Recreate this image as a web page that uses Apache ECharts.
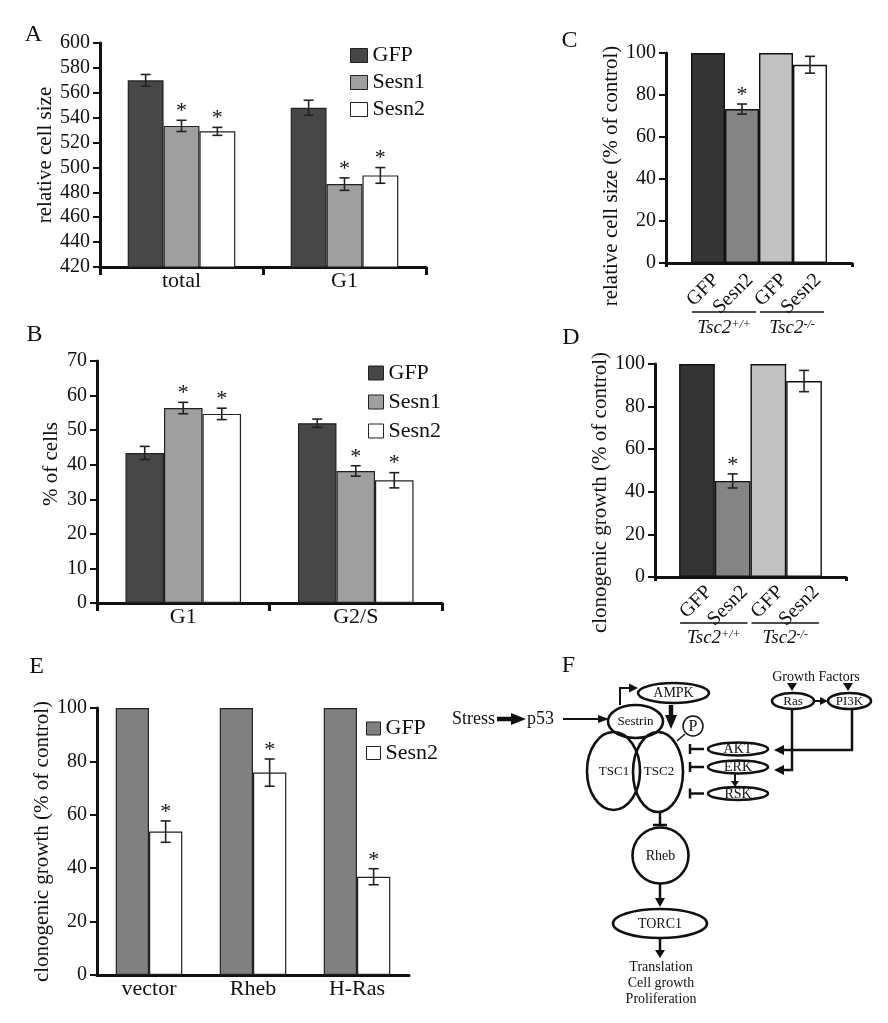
<!DOCTYPE html>
<html><head><meta charset="utf-8">
<script src="https://cdn.jsdelivr.net/npm/echarts@6/dist/echarts.min.js"></script>
<style>html,body{margin:0;padding:0;background:#fff}#c{width:888px;height:1023px}</style>
</head><body><div id="c"></div>
<script>
const FONT = '"Liberation Serif","Times New Roman",serif';

// ---------- Panel A : relative cell size ----------
const aCategories = ['total', 'G1'];
const aSeriesNames = ['GFP', 'Sesn1', 'Sesn2'];
const aGFP = [570, 548];
const aGFPErr = [4.7, 6];
const aSesn1 = [533.4, 486.6];
const aSesn1Err = [4.5, 5];
const aSesn2 = [529, 493.6];
const aSesn2Err = [3.2, 6.3];
const aStars = [[0, 0], [1, 1], [1, 1]];
const aYTicks = [420, 600, 20];

// ---------- Panel B : % of cells ----------
const bCategories = ['G1', 'G2/S'];
const bGFP = [43.4, 52.0];
const bGFPErr = [1.9, 1.2];
const bSesn1 = [56.4, 38.2];
const bSesn1Err = [1.65, 1.5];
const bSesn2 = [54.7, 35.5];
const bSesn2Err = [1.65, 2.2];
const bStars = [[0, 0], [1, 1], [1, 1]];
const bYTicks = [0, 70, 10];

// ---------- Panel C / D : Tsc2 cells ----------
const cdLabels = ['GFP', 'Sesn2', 'GFP', 'Sesn2'];
const cdGroups = ['{i|Tsc2}{s|+/+}', '{i|Tsc2}{s|-/-}'];
const cValues = [100, 73.3, 100, 94.4];
const cErr = [0, 2.4, 0, 4];
const cStars = [0, 1, 0, 0];
const dValues = [100, 45.1, 100, 92.0];
const dErr = [0, 3.3, 0, 5];
const dStars = [0, 1, 0, 0];
const cdYTicks = [0, 100, 20];

// ---------- Panel E : clonogenic growth ----------
const eCategories = ['vector', 'Rheb', 'H-Ras'];
const eSeriesNames = ['GFP', 'Sesn2'];
const eGFP = [100, 100, 100];
const eSesn2 = [53.7, 75.8, 36.8];
const eSesn2Err = [4, 5.1, 3];
const eStars = [1, 1, 1];
const eYTicks = [0, 100, 20];

const INK = '#111';
const colA = ['#474747', '#9f9f9f', '#ffffff'];
const colCD = ['#343434', '#848484', '#c2c2c2', '#ffffff'];
const colE = ['#808080', '#ffffff'];

function yAx(grid, t, name, nameGap, pad) {
  return {type: 'value', gridIndex: grid, min: t[0], max: t[1], interval: t[2],
    name: name, nameLocation: 'middle', nameGap: nameGap, nameRotate: 90,
    nameTextStyle: {fontFamily: FONT, fontSize: 21, color: INK, padding: pad},
    axisLine: {show: true, lineStyle: {color: INK, width: 3}},
    axisTick: {show: true, length: 7, lineStyle: {color: INK, width: 2}},
    axisLabel: {fontFamily: FONT, fontSize: 20, color: INK, margin: 10},
    splitLine: {show: false}};
}
function xAx(grid, data, ticks, showLabel) {
  return {type: 'category', gridIndex: grid, data: data,
    axisLine: {show: true, onZero: false, lineStyle: {color: INK, width: 3}},
    axisTick: {show: ticks > 0, length: ticks, lineStyle: {color: INK, width: 3}},
    axisLabel: {show: showLabel, fontFamily: FONT, fontSize: 22, color: INK, margin: 3}};
}
function bar(name, idx, data, color, gap, extra) {
  return Object.assign({type: 'bar', name: name, xAxisIndex: idx, yAxisIndex: idx, data: data,
    barGap: '0%', barCategoryGap: gap, silent: true, animation: false,
    itemStyle: {color: color, borderColor: '#222', borderWidth: 1.2}}, extra || {});
}
function errBar(ch, api, cat, x, v, e) {
  const s = {stroke: '#222', lineWidth: 1.6};
  const yT = api.coord([cat, v + e])[1], yB = api.coord([cat, v - e])[1];
  const cw = 5;
  ch.push({type: 'line', shape: {x1: x, y1: yT, x2: x, y2: yB}, style: s});
  ch.push({type: 'line', shape: {x1: x - cw, y1: yT, x2: x + cw, y2: yT}, style: s});
  ch.push({type: 'line', shape: {x1: x - cw, y1: yB, x2: x + cw, y2: yB}, style: s});
  return yT;
}
function starText(x, top) {
  return {type: 'text', x: x, y: top + 2, style: {text: '*', font: '22px ' + FONT, fill: INK, align: 'center', verticalAlign: 'bottom'}};
}
function groupedErr(idx, items, nSeries, gapFrac) {
  return {type: 'custom', xAxisIndex: idx, yAxisIndex: idx, data: items, encode: {x: 0, y: 2},
    silent: true, animation: false, z: 5,
    renderItem: function (params, api) {
      const cat = api.value(0), si = api.value(1), v = api.value(2), e = api.value(3), st = api.value(4);
      const c = api.coord([cat, v]);
      const bw = api.size([1, 0])[0] * (1 - gapFrac) / nSeries;
      const x = c[0] + (si - (nSeries - 1) / 2) * bw;
      const ch = [];
      let top = c[1];
      if (e > 0) top = errBar(ch, api, cat, x, v, e);
      if (st) ch.push(starText(x, top));
      return {type: 'group', children: ch};
    }};
}
function cdErr(idx, items, bw, lblDx, lblDy, lineDy, textDy) {
  return {type: 'custom', xAxisIndex: idx, yAxisIndex: idx, data: items, encode: {x: 0, y: 2},
    silent: true, animation: false, z: 5,
    renderItem: function (params, api) {
      const si = api.value(1), v = api.value(2), e = api.value(3), st = api.value(4);
      const c = api.coord([0, v]);
      const x = c[0] + (si - 1.5) * bw;
      const axisY = api.coord([0, 0])[1];
      const ch = [];
      let top = c[1];
      if (e > 0) top = errBar(ch, api, 0, x, v, e);
      if (st) ch.push(starText(x, top));
      ch.push({type: 'text', x: x + lblDx, y: axisY + lblDy, rotation: Math.PI / 4,
        style: {text: cdLabels[si], font: '20px ' + FONT, fill: INK, align: 'right', verticalAlign: 'middle'}});
      if (si % 2 === 0) {
        const gl = x - bw / 2, gr = x + bw * 1.5;
        ch.push({type: 'line', shape: {x1: gl + 1, y1: axisY + lineDy, x2: gr - 3, y2: axisY + lineDy}, style: {stroke: '#111', lineWidth: 1.5}});
        ch.push({type: 'text', x: (gl + gr) / 2 - 1, y: axisY + textDy,
          style: {text: cdGroups[si / 2], align: 'center', verticalAlign: 'middle',
            rich: {i: {fontFamily: FONT, fontSize: 19, fontStyle: 'italic', fill: INK, lineHeight: 19, verticalAlign: 'bottom'},
                   s: {fontFamily: FONT, fontSize: 12, fontStyle: 'italic', fill: INK, lineHeight: 12, verticalAlign: 'top'}}}});
      }
      return {type: 'group', children: ch};
    }};
}

function groupedItems(vals, errs, stars) {
  const out = [];
  vals.forEach(function (arr, si) {
    arr.forEach(function (v, ci) { out.push([ci, si, v, errs[si][ci], stars[si][ci]]); });
  });
  return out;
}
const aItems = groupedItems([aGFP, aSesn1, aSesn2], [aGFPErr, aSesn1Err, aSesn2Err], aStars);
const bItems = groupedItems([bGFP, bSesn1, bSesn2], [bGFPErr, bSesn1Err, bSesn2Err], bStars);
const eItems = groupedItems([eGFP, eSesn2], [[0, 0, 0], eSesn2Err], [[0, 0, 0], eStars]);
const cItems = cValues.map(function (v, i) { return [0, i, v, cErr[i], cStars[i]]; });
const dItems = dValues.map(function (v, i) { return [0, i, v, dErr[i], dStars[i]]; });

const series = [];
[aGFP, aSesn1, aSesn2].forEach(function (d, i) { series.push(bar(aSeriesNames[i], 0, d, colA[i], '34%')); });
series.push(groupedErr(0, aItems, 3, 0.34));
[bGFP, bSesn1, bSesn2].forEach(function (d, i) { series.push(bar(aSeriesNames[i], 1, d, colA[i], '33%')); });
series.push(groupedErr(1, bItems, 3, 0.33));
cValues.forEach(function (v, i) { series.push(bar('C' + i, 2, [v], colCD[i], '0%', {barWidth: 34, itemStyle: {color: colCD[i], borderColor: '#111', borderWidth: 1.4}})); });
series.push(cdErr(2, cItems, 34, 8, 14, 49, 65));
dValues.forEach(function (v, i) { series.push(bar('D' + i, 3, [v], colCD[i], '0%', {barWidth: 35.7, itemStyle: {color: colCD[i], borderColor: '#111', borderWidth: 1.4}})); });
series.push(cdErr(3, dItems, 35.7, 12, 12, 46, 61));
[eGFP, eSesn2].forEach(function (d, i) { series.push(bar(eSeriesNames[i], 4, d, colE[i], '36%')); });
series.push(groupedErr(4, eItems, 2, 0.36));

// ---------- Panel F diagram + panel letters ----------
const G = [];
function ell(cx, cy, rx, ry, lw) { G.push({type: 'ellipse', shape: {cx: cx, cy: cy, rx: rx, ry: ry}, style: {fill: 'transparent', stroke: INK, lineWidth: lw || 2.6}}); }
function txt(x, y, t, size, align) { G.push({type: 'text', x: x, y: y, style: {text: t, font: size + 'px ' + FONT, fill: INK, align: align || 'center', verticalAlign: 'middle'}}); }
function pl(points, lw) { G.push({type: 'polyline', shape: {points: points}, style: {stroke: INK, lineWidth: lw || 2.5, fill: null}}); }
function tri(points) { G.push({type: 'polygon', shape: {points: points}, style: {fill: INK}}); }

[['A', 33.5, 35], ['B', 34.5, 334.5], ['C', 569.5, 40.5], ['D', 571, 337.5], ['E', 36.5, 666.5], ['F', 568.5, 665.5]].forEach(function (p) { txt(p[1], p[2], p[0], 24); });

txt(452, 719, 'Stress', 18, 'left');
pl([[497, 719], [513, 719]], 4.5); tri([[511, 713], [526, 719], [511, 725]]);
txt(527, 719, 'p53', 18, 'left');
pl([[563, 719], [600, 719]], 1.8); tri([[598, 715], [609, 719], [598, 723]]);
ell(635.5, 721.5, 27.5, 16.5); txt(635.5, 722, 'Sestrin', 13);
ell(673.5, 693, 35.5, 10); txt(673.5, 693.5, 'AMPK', 14);
pl([[620, 705], [620, 688], [630, 688]], 2); tri([[629, 683.5], [638, 688], [629, 692.5]]);
pl([[671, 705], [671, 717]], 4.5); tri([[665, 715], [677, 715], [671, 729]]);
G.push({type: 'circle', shape: {cx: 693, cy: 726, r: 10}, style: {fill: 'transparent', stroke: INK, lineWidth: 1.5}});
txt(693, 726.5, 'P', 16);
pl([[685, 734], [677, 741]], 1.5);
ell(613.5, 771, 26.5, 39); ell(658, 772, 25, 40);
txt(614, 772, 'TSC1', 13); txt(659, 772, 'TSC2', 13);
[749, 767, 793.5].forEach(function (y) {
  ell(738, y, 30, 6.5);
  pl([[690, y], [704, y]], 2.5); pl([[690, y - 5], [690, y + 5]], 2.5);
});
txt(738, 749.5, 'AKT', 14); txt(738, 767.5, 'ERK', 14); txt(738, 794, 'RSK', 14);
pl([[735, 773], [735, 782]], 2); tri([[731, 781], [739, 781], [735, 787]]);
txt(816, 677, 'Growth Factors', 14);
tri([[787, 683], [797, 683], [792, 691]]); tri([[843, 683], [853, 683], [848, 691]]);
ell(793, 701, 21, 8); txt(793, 701.5, 'Ras', 13);
ell(849.5, 701, 21.5, 8); txt(849.5, 701.5, 'PI3K', 13);
pl([[814, 701], [821, 701]], 2); tri([[820, 697], [828, 701], [820, 705]]);
pl([[792, 710], [792, 770], [782, 770]], 2.5); tri([[784, 765], [774, 770], [784, 775]]);
pl([[852, 710], [852, 750], [782, 750]], 2.5); tri([[784, 745], [774, 750], [784, 755]]);
pl([[660, 812], [660, 825]], 2.5); pl([[653, 825], [667, 825]], 2.5);
G.push({type: 'circle', shape: {cx: 660.5, cy: 855.5, r: 28}, style: {fill: 'transparent', stroke: INK, lineWidth: 2.6}});
txt(660.5, 856, 'Rheb', 14);
pl([[660, 884], [660, 900]], 2.5); tri([[655, 898], [665, 898], [660, 907]]);
ell(660, 923.5, 47, 14.5); txt(660, 924, 'TORC1', 14);
pl([[660, 939], [660, 951]], 2.5); tri([[655, 950], [665, 950], [660, 958]]);
txt(661, 967, 'Translation', 14); txt(661, 983, 'Cell growth', 14); txt(661, 999, 'Proliferation', 14);

const legendBase = {orient: 'vertical', icon: 'rect', selectedMode: false, padding: 0,
  itemStyle: {borderColor: '#222', borderWidth: 1}};
const option = {
  backgroundColor: '#fff',
  animation: false,
  textStyle: {fontFamily: FONT},
  grid: [
    {left: 100, top: 43, width: 326, height: 224},
    {left: 97, top: 361, width: 345, height: 242},
    {left: 666, top: 53, width: 186, height: 210},
    {left: 655, top: 364, width: 191, height: 213},
    {left: 97, top: 708, width: 312, height: 267}
  ],
  xAxis: [xAx(0, aCategories, 8, true), xAx(1, bCategories, 8, true), xAx(2, [''], 4, false), xAx(3, [''], 4, false), xAx(4, eCategories, 0, true)],
  yAxis: [
    yAx(0, aYTicks, 'relative cell size', 42, [0, 0, 0, 0]),
    yAx(1, bYTicks, '% of cells', 35, [0, 0, 0, 36]),
    yAx(2, cdYTicks, 'relative cell size (% of control)', 43, [0, 36, 0, 0]),
    yAx(3, cdYTicks, 'clonogenic growth (% of control)', 43, [0, 44, 0, 0]),
    yAx(4, eYTicks, 'clonogenic growth (% of control)', 44, [0, 0, 0, 0])
  ],
  legend: [
    Object.assign({}, legendBase, {data: aSeriesNames, left: 350, top: 44.5, itemWidth: 17, itemHeight: 14, itemGap: 5,
      textStyle: {fontFamily: FONT, fontSize: 22, color: INK}}),
    Object.assign({}, legendBase, {data: aSeriesNames, left: 368, top: 362, itemWidth: 15, itemHeight: 14, itemGap: 7,
      textStyle: {fontFamily: FONT, fontSize: 22, color: INK}}),
    Object.assign({}, legendBase, {data: [{name: 'GFP', itemStyle: {color: colE[0]}}, {name: 'Sesn2', itemStyle: {color: colE[1]}}],
      left: 366, top: 717.5, itemWidth: 14, itemHeight: 13, itemGap: 2.5,
      textStyle: {fontFamily: FONT, fontSize: 22, color: INK}})
  ],
  graphic: G,
  series: series
};
const chart = echarts.init(document.getElementById('c'), null, {renderer: 'canvas'});
chart.setOption(option);
</script></body></html>
